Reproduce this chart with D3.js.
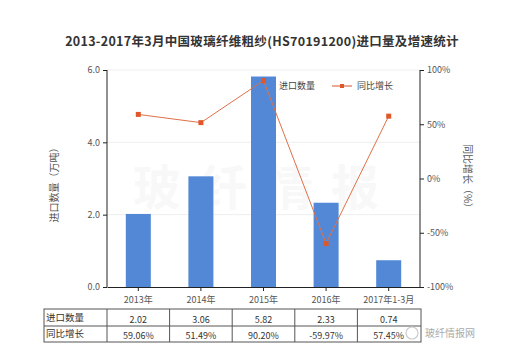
<!DOCTYPE html>
<html><head><meta charset="utf-8">
<script src="https://cdn.jsdelivr.net/npm/d3@7"></script>
<style>body{margin:0;background:#fff;}svg{display:block;font-family:"Noto Sans CJK SC","Microsoft YaHei",sans-serif;}</style>
</head><body><svg id="c" width="510" height="360"></svg>
<script>
const categories = ["2013年","2014年","2015年","2016年","2017年1-3月"];
const volume = [2.02, 3.06, 5.82, 2.33, 0.74];
const growth = [59.06, 51.49, 90.20, -59.97, 57.45];
const volumeLabels = ["2.02","3.06","5.82","2.33","0.74"];
const growthLabels = ["59.06%","51.49%","90.20%","-59.97%","57.45%"];
const leftTicks = [0,2,4,6];
const rightTicks = [-100,-50,0,50,100];

const svg = d3.select("#c");
const L = 107, R = 420, T = 70, B = 287;
const x = d3.scaleBand().domain(categories).range([L, R]);
const yL = d3.scaleLinear().domain([0,6]).range([B, T]);
const yR = d3.scaleLinear().domain([-100,100]).range([B, T]);

svg.append("text").attr("x",262).attr("y",46).attr("text-anchor","middle")
  .attr("font-size",12.5).attr("font-weight","bold").attr("fill","#333").attr("letter-spacing",0.3)
  .text("2013-2017年3月中国玻璃纤维粗纱(HS70191200)进口量及增速统计");

// grid
svg.append("g").selectAll("line").data(leftTicks.slice(1)).join("line")
  .attr("x1",L).attr("x2",R).attr("y1",d=>yL(d)).attr("y2",d=>yL(d))
  .attr("stroke","#eee").attr("stroke-width",1);

// watermark big
svg.append("text").attr("x",265).attr("y",205).attr("text-anchor","middle").attr("font-size",48)
  .attr("font-weight","bold").attr("fill","#000").attr("opacity",0.025).attr("letter-spacing",18).text("玻纤情报");

// bars
const bw = 25;
svg.append("g").selectAll("rect").data(volume).join("rect")
  .attr("x",(d,i)=>x(categories[i])+x.bandwidth()/2-bw/2).attr("width",bw)
  .attr("y",d=>yL(d)).attr("height",d=>B-yL(d)).attr("fill","#5288d6");

// line
const line = d3.line().x((d,i)=>x(categories[i])+x.bandwidth()/2).y(d=>yR(d));
svg.append("path").datum(growth).attr("d",line).attr("fill","none").attr("stroke","#e07048").attr("stroke-width",1);
svg.append("g").selectAll("rect").data(growth).join("rect")
  .attr("x",(d,i)=>x(categories[i])+x.bandwidth()/2-2.5).attr("y",d=>yR(d)-2.5)
  .attr("width",5).attr("height",5).attr("fill","#e0582a");

// axes
const axL = svg.append("g").attr("transform",`translate(${L},0)`)
  .call(d3.axisLeft(yL).tickValues(leftTicks).tickFormat(d3.format(".1f")).tickSize(4));
const axR = svg.append("g").attr("transform",`translate(${R},0)`)
  .call(d3.axisRight(yR).tickValues(rightTicks).tickFormat(d=>d+"%").tickSize(4));
const axB = svg.append("g").attr("transform",`translate(0,${B})`)
  .call(d3.axisBottom(x).tickSize(4).tickSizeOuter(0));
[axL,axR,axB].forEach(a=>{
  a.select(".domain").attr("stroke","#222");
  a.selectAll(".tick line").attr("stroke","#222");
  a.selectAll("text").attr("font-size",9).attr("fill","#555").attr("font-family","'Noto Sans CJK SC',sans-serif");
});
axL.select(".domain").attr("d",`M0,${T}V${B}`);
axR.select(".domain").attr("d",`M0,${T}V${B}`);
axB.selectAll("text").attr("dy","1em");

// axis titles
svg.append("text").attr("transform",`translate(58,${(T+B)/2+4}) rotate(-90)`).attr("text-anchor","middle")
  .attr("font-size",10).attr("fill","#555").text("进口数量（万吨）");
svg.append("text").attr("transform",`translate(464,${(T+B)/2}) rotate(90)`).attr("text-anchor","middle")
  .attr("font-size",10).attr("fill","#555").text("同比增长（%）");

// legend
svg.append("text").attr("x",279).attr("y",89).attr("font-size",9).attr("fill","#444").text("进口数量");
svg.append("line").attr("x1",332).attr("x2",352).attr("y1",86).attr("y2",86).attr("stroke","#e07048").attr("stroke-width",1.2);
svg.append("rect").attr("x",340).attr("y",84).attr("width",4).attr("height",4).attr("fill","#e0582a");
svg.append("text").attr("x",357).attr("y",89).attr("font-size",9).attr("fill","#444").text("同比增长");

// table
const tT = 309, tM = 326, tB = 342, tL = 44;
const tg = svg.append("g");
tg.append("rect").attr("x",tL).attr("y",tT).attr("width",R+1-tL).attr("height",tB-tT).attr("fill","none").attr("stroke","#555");
tg.append("line").attr("x1",tL).attr("x2",R+1).attr("y1",tM).attr("y2",tM).attr("stroke","#555");
tg.selectAll("line.v").data(categories).join("line").attr("class","v")
  .attr("x1",d=>x(d)).attr("x2",d=>x(d)).attr("y1",tT).attr("y2",tB).attr("stroke","#555");
tg.append("text").attr("x",tL+2).attr("y",tM-5).attr("font-size",9.5).attr("fill","#333").text("进口数量");
tg.append("text").attr("x",tL+2).attr("y",tB-5).attr("font-size",9.5).attr("fill","#333").text("同比增长");
tg.selectAll("text.v1").data(volumeLabels).join("text").attr("class","v1")
  .attr("x",(d,i)=>x(categories[i])+x.bandwidth()/2).attr("y",tM-3).attr("text-anchor","middle")
  .attr("font-size",9).attr("fill","#333").text(d=>d);
tg.selectAll("text.v2").data(growthLabels).join("text").attr("class","v2")
  .attr("x",(d,i)=>x(categories[i])+x.bandwidth()/2).attr("y",tB-3).attr("text-anchor","middle")
  .attr("font-size",9).attr("fill","#333").text(d=>d);

// small watermark
svg.append("circle").attr("cx",412).attr("cy",333).attr("r",6).attr("fill","none").attr("stroke","#ccc").attr("stroke-width",1.2);
svg.append("text").attr("x",425).attr("y",337).attr("font-size",10).attr("fill","#aaa").text("玻纤情报网");
</script></body></html>
